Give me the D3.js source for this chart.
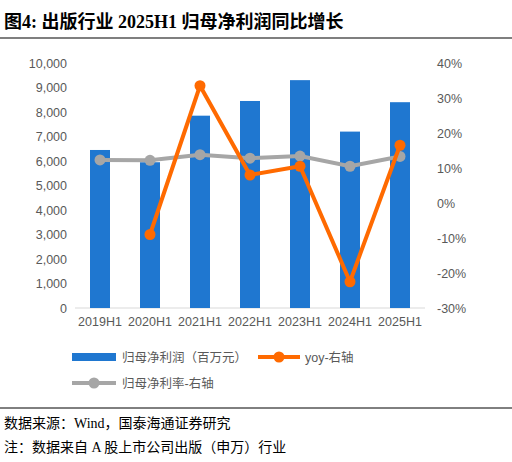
<!DOCTYPE html>
<html><head><meta charset="utf-8">
<script src="https://cdn.jsdelivr.net/npm/d3@7"></script>
<style>body{margin:0;background:#fff}text{font-family:"Liberation Serif","Noto Sans CJK SC",serif}
.s text,text.s{font-family:"Liberation Sans","Noto Sans CJK SC",sans-serif;fill:#595959}</style>
</head><body><svg id="c" width="512" height="462"></svg>
<script>
var periods = ["2019H1","2020H1","2021H1","2022H1","2023H1","2024H1","2025H1"];
var profit = [6450, 5950, 7850, 8450, 9300, 7200, 8400];
var yoy = [null, -9.0, 33.5, 8.0, 10.5, -22.5, 16.5];
var margin = [12.3, 12.2, 13.8, 12.8, 13.4, 10.5, 13.3];
var leftTicks = d3.range(0, 10001, 1000);
var rightTicks = d3.range(-30, 41, 10);

var svg = d3.select("#c");
svg.append("text").attr("x", 4).attr("y", 28).attr("font-size", 18).attr("font-weight", "bold")
  .text("图4:  出版行业 2025H1 归母净利润同比增长");
svg.append("line").attr("x1", 0).attr("x2", 512).attr("y1", 38).attr("y2", 38).attr("stroke", "#000").attr("stroke-width", 1.2);

var x = d3.scaleBand().domain(periods).range([75, 425]).paddingInner(0.6).paddingOuter(0.3);
var xo = d3.scaleBand().domain(periods).range([75, 425]);
var yl = d3.scaleLinear().domain([0, 10000]).range([308, 63]);
var yr = d3.scaleLinear().domain([-30, 40]).range([308, 63]);

svg.append("line").attr("x1", 75).attr("x2", 425).attr("y1", 308).attr("y2", 308).attr("stroke", "#d9d9d9");

svg.append("g").attr("class", "s").attr("transform", "translate(75,0)")
  .call(d3.axisLeft(yl).tickValues(leftTicks).tickFormat(d3.format(",")).tickSize(0).tickPadding(8))
  .call(g => g.select(".domain").remove())
  .selectAll("text").attr("font-size", 12.5);
svg.append("g").attr("class", "s").attr("transform", "translate(425,0)")
  .call(d3.axisRight(yr).tickValues(rightTicks).tickFormat(d => d + "%").tickSize(0).tickPadding(12))
  .call(g => g.select(".domain").remove())
  .selectAll("text").attr("font-size", 12.5);
svg.append("g").attr("class", "s").attr("transform", "translate(0,308)")
  .call(d3.axisBottom(xo).tickSize(0).tickPadding(9))
  .call(g => g.select(".domain").remove())
  .selectAll("text").attr("font-size", 12.5);

svg.selectAll(".bar").data(profit).enter().append("rect")
  .attr("x", (d, i) => x(periods[i])).attr("width", x.bandwidth())
  .attr("y", d => yl(d)).attr("height", d => 308 - yl(d)).attr("fill", "#1f77d0");

var cx = p => xo(p) + xo.bandwidth() / 2;
function series(vals, color, w, r) {
  var pts = vals.map((v, i) => [periods[i], v]).filter(d => d[1] != null);
  svg.append("path").datum(pts).attr("fill", "none").attr("stroke", color).attr("stroke-width", w)
    .attr("d", d3.line().x(d => cx(d[0])).y(d => yr(d[1])));
  svg.selectAll(null).data(pts).enter().append("circle")
    .attr("cx", d => cx(d[0])).attr("cy", d => yr(d[1])).attr("r", r).attr("fill", color);
}
series(margin, "#a6a6a6", 4, 5.5);
series(yoy, "#ff6a00", 4, 5.5);

// legend
var lg = svg.append("g").attr("class", "s").attr("font-size", 12.5);
lg.append("rect").attr("x", 72).attr("y", 353).attr("width", 44).attr("height", 8).attr("fill", "#1f77d0");
lg.append("text").attr("x", 122).attr("y", 362).text("归母净利润（百万元）");
lg.append("line").attr("x1", 258).attr("x2", 300).attr("y1", 357).attr("y2", 357).attr("stroke", "#ff6a00").attr("stroke-width", 4);
lg.append("circle").attr("cx", 279).attr("cy", 357).attr("r", 5.5).attr("fill", "#ff6a00");
lg.append("text").attr("x", 305).attr("y", 362).text("yoy-右轴");
lg.append("line").attr("x1", 72).attr("x2", 116).attr("y1", 383).attr("y2", 383).attr("stroke", "#a6a6a6").attr("stroke-width", 4);
lg.append("circle").attr("cx", 94).attr("cy", 383).attr("r", 5.5).attr("fill", "#a6a6a6");
lg.append("text").attr("x", 122).attr("y", 388).text("归母净利率-右轴");

svg.append("line").attr("x1", 0).attr("x2", 512).attr("y1", 408).attr("y2", 408).attr("stroke", "#000").attr("stroke-width", 1);
svg.append("text").attr("x", 4).attr("y", 428).attr("font-size", 14).text("数据来源：Wind，国泰海通证券研究");
svg.append("text").attr("x", 4).attr("y", 452).attr("font-size", 14).text("注：数据来自 A 股上市公司出版（申万）行业");
</script></body></html>
